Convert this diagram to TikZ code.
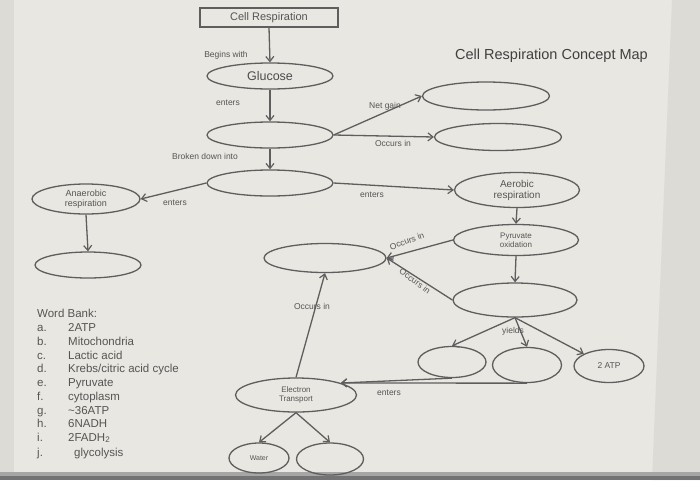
\documentclass[tikz,border=0pt]{standalone}
\usepackage{fontspec}
\setmainfont{Liberation Sans}
\usetikzlibrary{shapes.geometric,arrows.meta}
\definecolor{paper}{HTML}{E9E7E1}
\definecolor{strip}{HTML}{DCDBD5}
\definecolor{ink}{HTML}{5E5E5E}
\definecolor{txt}{HTML}{555555}
\tikzset{
  ov/.style={draw=ink,line width=1.3pt,ellipse,inner sep=0pt,text=txt,align=center},
  con/.style={draw=ink,line width=1.3pt,-{Straight Barb[length=5pt,width=8pt,line width=1.2pt]}},
  lab/.style={text=txt,font=\fontsize{8.5}{10}\selectfont,inner sep=0pt},
  wb/.style={text=txt,font=\fontsize{11.5}{12}\selectfont,inner sep=0pt,anchor=base west}
}
\begin{document}
\begin{tikzpicture}[x=1pt,y=-1pt]
% background (photo of paper)
\fill[paper] (0,0) rectangle (700,480);
\fill[strip] (672,0) -- (700,0) -- (700,480) -- (652,480) -- cycle;
\fill[strip] (0,0) rectangle (14,480);
\fill[black!35] (0,472) rectangle (700,476);
\fill[black!55] (0,476) rectangle (700,480);
\useasboundingbox (0,0) rectangle (700,480);

% nodes
\node[draw=ink,line width=1.3pt,rectangle,minimum width=138pt,minimum height=19pt,inner sep=0pt,text=txt,font=\fontsize{11}{12}\selectfont] (cr) at (269,17.5) {Cell Respiration};
\node[ov,minimum width=126pt,minimum height=26pt,font=\fontsize{12.5}{13}\selectfont,text=black!70] (glu) at (270,76) {Glucose};
\node[ov,minimum width=126pt,minimum height=26pt] (e2) at (270,135) {};
\node[ov,minimum width=126pt,minimum height=26pt] (e3) at (270,183) {};
\node[ov,minimum width=127pt,minimum height=28pt] (na) at (486,96) {};
\node[ov,minimum width=127pt,minimum height=27pt] (nb) at (498,137) {};
\node[ov,minimum width=125pt,minimum height=35pt,font=\fontsize{10}{11}\selectfont] (aer) at (517,190) {Aerobic\\respiration};
\node[ov,minimum width=125pt,minimum height=31pt,font=\fontsize{8}{9}\selectfont] (pyr) at (516,240) {Pyruvate\\oxidation};
\node[ov,minimum width=124pt,minimum height=34pt] (kr) at (515,300) {};
\node[ov,minimum width=122pt,minimum height=29pt] (mito) at (325,258) {};
\node[ov,minimum width=121pt,minimum height=34pt,font=\fontsize{8}{9}\selectfont] (et) at (296,395) {Electron\\Transport};
\node[ov,minimum width=68pt,minimum height=31pt] (s1) at (452,362) {};
\node[ov,minimum width=69pt,minimum height=35pt] (s2) at (527,365) {};
\node[ov,minimum width=70pt,minimum height=33pt,font=\fontsize{8.5}{9}\selectfont] (atp) at (609,366) {2 ATP};
\node[ov,minimum width=60pt,minimum height=30pt,font=\fontsize{7}{8}\selectfont] (water) at (259,458) {Water};
\node[ov,minimum width=67pt,minimum height=32pt] (s3) at (330,459) {};
\node[ov,minimum width=108pt,minimum height=30pt,font=\fontsize{9}{9.5}\selectfont] (anr) at (86,199) {Anaerobic\\respiration};
\node[ov,minimum width=106pt,minimum height=26pt] (low) at (88,265) {};

% title
\node[text=black!75,font=\fontsize{14.5}{15}\selectfont,anchor=west,inner sep=0pt] (title) at (455,56) {Cell Respiration Concept Map};

% connectors
\draw[con] (cr.south) -- (glu.north);
\draw[con] (glu.south) -- (e2.north);
\draw[con] (e2.south) -- (e3.north);
\draw[con] (e2.east) -- (na.west);
\draw[con] (e2.east) -- (nb.west);
\draw[con] (e3.east) -- (aer.west);
\draw[con] (e3.west) -- (anr.east);
\draw[con] (anr.south) -- (low.north);
\draw[con] (aer.south) -- (pyr.north);
\draw[con] (pyr.south) -- (kr.north);
\draw[con] (pyr.west) -- (mito.east);
\draw[con] (kr.west) -- (mito.east);
\draw[con] (et.north) -- (mito.south);
\draw[con] (kr.south) -- (s1.north);
\draw[con] (kr.south) -- (s2.north);
\draw[con] (kr.south) -- (atp.north west);
\draw[con] (s1.south) -- (et.15);
\draw[con] (s2.south) -- (et.15);
\draw[con] (et.south) -- (water.north);
\draw[con] (et.south) -- (s3.north);

% labels
\node[lab] (l1) at (226,55) {Begins with};
\node[lab] (l2) at (228,103) {enters};
\node[lab] (l3) at (205,156) {Broken down into};
\node[lab] (l4) at (385,106) {Net gain};
\node[lab] (l5) at (393,143) {Occurs in};
\node[lab] (l6) at (372,195) {enters};
\node[lab] (l7) at (175,203) {enters};
\node[lab,rotate=20] (l8) at (407,241) {Occurs in};
\node[lab,rotate=-36] (l9) at (415,281) {Occurs in};
\node[lab] (l10) at (312,306) {Occurs in};
\node[lab] (l11) at (513,331) {yields};
\node[lab] (l12) at (389,393) {enters};

% word bank
\node[wb] (wbh) at (37,317) {Word Bank:};
\foreach \l/\t/\y [count=\i] in {a./2ATP/331, b./Mitochondria/345, c./Lactic acid/359, d./Krebs\slash citric acid cycle/372, e./Pyruvate/386, f./cytoplasm/400, g./\textasciitilde36ATP/414, h./6NADH/427, i./2FADH\textsubscript{2}/441}{
  \node[wb] (wl\i) at (37,\y) {\l};
  \node[wb] (wi\i) at (68,\y) {\t};
}
\node[wb] (wlj) at (37,456) {j.};
\node[wb] (wij) at (74,456) {glycolysis};
\end{tikzpicture}
\end{document}
